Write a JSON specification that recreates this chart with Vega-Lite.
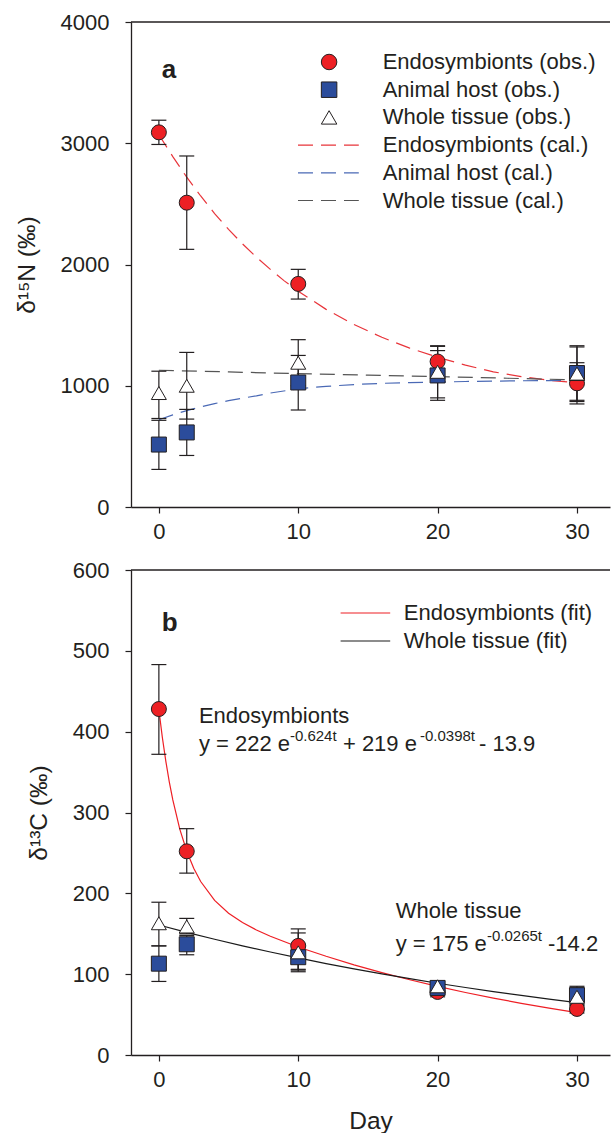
{
  "$schema": "https://vega.github.io/schema/vega-lite/v6.json",
  "padding": {"left": 14, "top": 11, "right": 0, "bottom": 0},
  "background": "white",
  "spacing": 17,
  "config": {
    "font": "Liberation Sans",
    "view": {"stroke": null},
    "axis": {"grid": false, "domainColor": "#231f20", "domainWidth": 1.3, "tickColor": "#231f20", "tickWidth": 1.2, "tickSize": 6, "labelFont": "Liberation Sans", "labelFontSize": 22, "labelColor": "#231f20", "titleFont": "Liberation Sans", "titleFontSize": 24.5, "titleFontWeight": "normal", "titleColor": "#231f20"},
    "axisX": {"labelPadding": 8, "titlePadding": 19},
    "axisY": {"labelPadding": 16, "titlePadding": 21},
    "legend": {"labelFont": "Liberation Sans", "labelFontSize": 22, "labelColor": "#231f20", "labelLimit": 400}
  },
  "resolve": {"scale": {"color": "independent", "fill": "independent", "shape": "independent", "stroke": "independent"}, "legend": {"color": "independent", "fill": "independent", "shape": "independent", "stroke": "independent"}},
  "datasets": {
    "a_obs": [
      {"series": "Endosymbionts (obs.)", "day": 0, "mean": 3090, "lo": 2990, "hi": 3190},
      {"series": "Endosymbionts (obs.)", "day": 2, "mean": 2510, "lo": 2125, "hi": 2895},
      {"series": "Endosymbionts (obs.)", "day": 10, "mean": 1840, "lo": 1715, "hi": 1960},
      {"series": "Endosymbionts (obs.)", "day": 20, "mean": 1200, "lo": 1075, "hi": 1325},
      {"series": "Endosymbionts (obs.)", "day": 30, "mean": 1020, "lo": 850, "hi": 1190},
      {"series": "Animal host (obs.)", "day": 0, "mean": 515, "lo": 310, "hi": 715},
      {"series": "Animal host (obs.)", "day": 2, "mean": 615, "lo": 425, "hi": 805},
      {"series": "Animal host (obs.)", "day": 10, "mean": 1027, "lo": 800, "hi": 1250},
      {"series": "Animal host (obs.)", "day": 20, "mean": 1085, "lo": 880, "hi": 1290},
      {"series": "Animal host (obs.)", "day": 30, "mean": 1105, "lo": 880, "hi": 1320},
      {"series": "Whole tissue (obs.)", "day": 0, "mean": 940, "lo": 730, "hi": 1120},
      {"series": "Whole tissue (obs.)", "day": 2, "mean": 1000, "lo": 725, "hi": 1275},
      {"series": "Whole tissue (obs.)", "day": 10, "mean": 1190, "lo": 1000, "hi": 1380},
      {"series": "Whole tissue (obs.)", "day": 20, "mean": 1115, "lo": 900, "hi": 1330},
      {"series": "Whole tissue (obs.)", "day": 30, "mean": 1100, "lo": 870, "hi": 1330}
    ],
    "a_cal": [
      {"series": "Endosymbionts (cal.)", "day": 0, "value": 3070},
      {"series": "Endosymbionts (cal.)", "day": 1, "value": 2890},
      {"series": "Endosymbionts (cal.)", "day": 2, "value": 2720},
      {"series": "Endosymbionts (cal.)", "day": 3, "value": 2565},
      {"series": "Endosymbionts (cal.)", "day": 4, "value": 2420},
      {"series": "Endosymbionts (cal.)", "day": 5, "value": 2290},
      {"series": "Endosymbionts (cal.)", "day": 6, "value": 2170},
      {"series": "Endosymbionts (cal.)", "day": 7, "value": 2060},
      {"series": "Endosymbionts (cal.)", "day": 8, "value": 1960},
      {"series": "Endosymbionts (cal.)", "day": 9, "value": 1865},
      {"series": "Endosymbionts (cal.)", "day": 10, "value": 1780},
      {"series": "Endosymbionts (cal.)", "day": 12, "value": 1630},
      {"series": "Endosymbionts (cal.)", "day": 14, "value": 1505},
      {"series": "Endosymbionts (cal.)", "day": 16, "value": 1400},
      {"series": "Endosymbionts (cal.)", "day": 18, "value": 1310},
      {"series": "Endosymbionts (cal.)", "day": 20, "value": 1235},
      {"series": "Endosymbionts (cal.)", "day": 22, "value": 1170},
      {"series": "Endosymbionts (cal.)", "day": 24, "value": 1115},
      {"series": "Endosymbionts (cal.)", "day": 26, "value": 1075},
      {"series": "Endosymbionts (cal.)", "day": 28, "value": 1045},
      {"series": "Endosymbionts (cal.)", "day": 30, "value": 1025},
      {"series": "Animal host (cal.)", "day": 0, "value": 720},
      {"series": "Animal host (cal.)", "day": 1, "value": 760},
      {"series": "Animal host (cal.)", "day": 2, "value": 795},
      {"series": "Animal host (cal.)", "day": 3, "value": 825},
      {"series": "Animal host (cal.)", "day": 4, "value": 853},
      {"series": "Animal host (cal.)", "day": 5, "value": 877},
      {"series": "Animal host (cal.)", "day": 6, "value": 898},
      {"series": "Animal host (cal.)", "day": 7, "value": 917},
      {"series": "Animal host (cal.)", "day": 8, "value": 940},
      {"series": "Animal host (cal.)", "day": 10, "value": 975},
      {"series": "Animal host (cal.)", "day": 12, "value": 995},
      {"series": "Animal host (cal.)", "day": 14, "value": 1010},
      {"series": "Animal host (cal.)", "day": 16, "value": 1020},
      {"series": "Animal host (cal.)", "day": 18, "value": 1026},
      {"series": "Animal host (cal.)", "day": 20, "value": 1030},
      {"series": "Animal host (cal.)", "day": 22, "value": 1035},
      {"series": "Animal host (cal.)", "day": 24, "value": 1038},
      {"series": "Animal host (cal.)", "day": 26, "value": 1041},
      {"series": "Animal host (cal.)", "day": 28, "value": 1043},
      {"series": "Animal host (cal.)", "day": 30, "value": 1045},
      {"series": "Whole tissue (cal.)", "day": 0, "value": 1128},
      {"series": "Whole tissue (cal.)", "day": 5, "value": 1114},
      {"series": "Whole tissue (cal.)", "day": 10, "value": 1100},
      {"series": "Whole tissue (cal.)", "day": 15, "value": 1087},
      {"series": "Whole tissue (cal.)", "day": 20, "value": 1075},
      {"series": "Whole tissue (cal.)", "day": 25, "value": 1062},
      {"series": "Whole tissue (cal.)", "day": 30, "value": 1048}
    ],
    "b_obs": [
      {"series": "Endosymbionts (obs.)", "day": 0, "mean": 428, "lo": 372, "hi": 483},
      {"series": "Endosymbionts (obs.)", "day": 2, "mean": 252, "lo": 225, "hi": 280},
      {"series": "Endosymbionts (obs.)", "day": 10, "mean": 135, "lo": 103, "hi": 156},
      {"series": "Endosymbionts (obs.)", "day": 20, "mean": 78, "lo": 72, "hi": 84},
      {"series": "Endosymbionts (obs.)", "day": 30, "mean": 57, "lo": 52, "hi": 62},
      {"series": "Animal host (obs.)", "day": 0, "mean": 113, "lo": 91, "hi": 135},
      {"series": "Animal host (obs.)", "day": 2, "mean": 137, "lo": 124, "hi": 148},
      {"series": "Animal host (obs.)", "day": 10, "mean": 121, "lo": 106, "hi": 136},
      {"series": "Animal host (obs.)", "day": 20, "mean": 83, "lo": 77, "hi": 89},
      {"series": "Animal host (obs.)", "day": 30, "mean": 74, "lo": 63, "hi": 85},
      {"series": "Whole tissue (obs.)", "day": 0, "mean": 163, "lo": 135, "hi": 189},
      {"series": "Whole tissue (obs.)", "day": 2, "mean": 159, "lo": 150, "hi": 169},
      {"series": "Whole tissue (obs.)", "day": 10, "mean": 127, "lo": 105, "hi": 151},
      {"series": "Whole tissue (obs.)", "day": 20, "mean": 85, "lo": 80, "hi": 91},
      {"series": "Whole tissue (obs.)", "day": 30, "mean": 72, "lo": 61, "hi": 83}
    ],
    "b_fit": [
      {"series": "Endosymbionts (fit)", "day": 0, "value": 427.1},
      {"series": "Endosymbionts (fit)", "day": 0.25, "value": 392.8},
      {"series": "Endosymbionts (fit)", "day": 0.5, "value": 363.3},
      {"series": "Endosymbionts (fit)", "day": 0.75, "value": 337.7},
      {"series": "Endosymbionts (fit)", "day": 1, "value": 315.5},
      {"series": "Endosymbionts (fit)", "day": 1.5, "value": 279.5},
      {"series": "Endosymbionts (fit)", "day": 2, "value": 252.0},
      {"series": "Endosymbionts (fit)", "day": 2.5, "value": 231.0},
      {"series": "Endosymbionts (fit)", "day": 3, "value": 214.6},
      {"series": "Endosymbionts (fit)", "day": 4, "value": 191.2},
      {"series": "Endosymbionts (fit)", "day": 5, "value": 175.4},
      {"series": "Endosymbionts (fit)", "day": 6, "value": 163.9},
      {"series": "Endosymbionts (fit)", "day": 7, "value": 154.6},
      {"series": "Endosymbionts (fit)", "day": 8, "value": 146.9},
      {"series": "Endosymbionts (fit)", "day": 10, "value": 133.6},
      {"series": "Endosymbionts (fit)", "day": 12, "value": 122.1},
      {"series": "Endosymbionts (fit)", "day": 14, "value": 111.5},
      {"series": "Endosymbionts (fit)", "day": 16, "value": 102.0},
      {"series": "Endosymbionts (fit)", "day": 18, "value": 93.1},
      {"series": "Endosymbionts (fit)", "day": 20, "value": 84.9},
      {"series": "Endosymbionts (fit)", "day": 22, "value": 77.3},
      {"series": "Endosymbionts (fit)", "day": 24, "value": 70.4},
      {"series": "Endosymbionts (fit)", "day": 26, "value": 63.9},
      {"series": "Endosymbionts (fit)", "day": 28, "value": 58.0},
      {"series": "Endosymbionts (fit)", "day": 30, "value": 52.5},
      {"series": "Whole tissue (fit)", "day": 0, "value": 160.8},
      {"series": "Whole tissue (fit)", "day": 2, "value": 151.8},
      {"series": "Whole tissue (fit)", "day": 4, "value": 143.2},
      {"series": "Whole tissue (fit)", "day": 6, "value": 135.1},
      {"series": "Whole tissue (fit)", "day": 8, "value": 127.4},
      {"series": "Whole tissue (fit)", "day": 10, "value": 120.1},
      {"series": "Whole tissue (fit)", "day": 12, "value": 113.1},
      {"series": "Whole tissue (fit)", "day": 14, "value": 106.6},
      {"series": "Whole tissue (fit)", "day": 16, "value": 100.3},
      {"series": "Whole tissue (fit)", "day": 18, "value": 94.4},
      {"series": "Whole tissue (fit)", "day": 20, "value": 88.8},
      {"series": "Whole tissue (fit)", "day": 22, "value": 83.5},
      {"series": "Whole tissue (fit)", "day": 24, "value": 78.4},
      {"series": "Whole tissue (fit)", "day": 26, "value": 73.7},
      {"series": "Whole tissue (fit)", "day": 28, "value": 69.1},
      {"series": "Whole tissue (fit)", "day": 30, "value": 64.8}
    ]
  },
  "vconcat": [
    {
      "width": 479,
      "height": 485,
      "layer": [
        {
          "data": {"name": "a_cal"},
          "mark": {"type": "line", "strokeDash": [15, 8], "strokeWidth": 1.2},
          "encoding": {
            "x": {"field": "day", "type": "quantitative", "scale": {"domain": [-2, 32.37], "nice": false, "zero": false}, "axis": {"values": [0, 10, 20, 30], "title": null}},
            "y": {"field": "value", "type": "quantitative", "scale": {"domain": [0, 4000], "nice": false}, "axis": {"values": [0, 1000, 2000, 3000, 4000], "format": "d", "title": "δ¹⁵N (‰)"}},
            "color": {"field": "series", "type": "nominal", "scale": {"domain": ["Endosymbionts (cal.)", "Animal host (cal.)", "Whole tissue (cal.)"], "range": ["#e8343a", "#4a69b5", "#555555"]},
              "legend": {"title": null, "orient": "none", "legendX": 186.4, "legendY": 112.1, "padding": 0, "symbolType": "M-3.8,0H3.8", "symbolSize": 256, "symbolStrokeWidth": 1.2, "symbolDash": [15, 8], "labelOffset": 43.4, "rowPadding": 5.7}}
          }
        },
        {
          "data": {"name": "a_obs"},
          "mark": {"type": "rule", "stroke": "#231f20", "strokeWidth": 1.2},
          "encoding": {
            "x": {"field": "day", "type": "quantitative"},
            "y": {"field": "lo", "type": "quantitative"},
            "y2": {"field": "hi"}
          }
        },
        {
          "data": {"name": "a_obs"},
          "mark": {"type": "tick", "orient": "horizontal", "size": 15, "thickness": 1.2, "color": "#231f20", "opacity": 1},
          "encoding": {"x": {"field": "day", "type": "quantitative"}, "y": {"field": "lo", "type": "quantitative"}}
        },
        {
          "data": {"name": "a_obs"},
          "mark": {"type": "tick", "orient": "horizontal", "size": 15, "thickness": 1.2, "color": "#231f20", "opacity": 1},
          "encoding": {"x": {"field": "day", "type": "quantitative"}, "y": {"field": "hi", "type": "quantitative"}}
        },
        {
          "data": {"name": "a_obs"},
          "mark": {"type": "point", "filled": true, "size": 225, "strokeWidth": 1, "opacity": 1},
          "encoding": {
            "x": {"field": "day", "type": "quantitative"},
            "y": {"field": "mean", "type": "quantitative"},
            "shape": {"field": "series", "type": "nominal", "scale": {"domain": ["Endosymbionts (obs.)", "Animal host (obs.)", "Whole tissue (obs.)"], "range": ["circle", "square", "triangle-up"]},
              "legend": {"title": null, "orient": "none", "legendX": 187.1, "legendY": 29, "padding": 0, "symbolSize": 240, "symbolStrokeWidth": 1, "labelOffset": 42.6, "rowPadding": 5.7}},
            "fill": {"field": "series", "type": "nominal", "scale": {"domain": ["Endosymbionts (obs.)", "Animal host (obs.)", "Whole tissue (obs.)"], "range": ["#ed2024", "#2b4c9b", "#ffffff"]},
              "legend": {"title": null, "orient": "none", "legendX": 187.1, "legendY": 29, "padding": 0, "symbolSize": 240, "symbolStrokeWidth": 1, "labelOffset": 42.6, "rowPadding": 5.7}},
            "stroke": {"field": "series", "type": "nominal", "scale": {"domain": ["Endosymbionts (obs.)", "Animal host (obs.)", "Whole tissue (obs.)"], "range": ["#231f20", "#231f20", "#231f20"]},
              "legend": {"title": null, "orient": "none", "legendX": 187.1, "legendY": 29, "padding": 0, "symbolSize": 240, "symbolStrokeWidth": 1, "labelOffset": 42.6, "rowPadding": 5.7}}
          }
        },
        {
          "data": {"values": [{}]},
          "mark": {"type": "rule", "stroke": "#231f20", "strokeWidth": 1.3},
          "encoding": {"y": {"datum": 4000, "type": "quantitative"}}
        },
        {
          "data": {"values": [{}]},
          "mark": {"type": "text", "font": "Liberation Sans", "fontSize": 26, "fontWeight": "bold", "align": "left", "baseline": "alphabetic", "color": "#231f20"},
          "encoding": {"text": {"value": "a"}, "x": {"datum": 0.215, "type": "quantitative"}, "y": {"datum": 3538, "type": "quantitative"}}
        }
      ]
    },
    {
      "width": 479,
      "height": 485,
      "layer": [
        {
          "data": {"name": "b_fit"},
          "mark": {"type": "line", "strokeWidth": 1.2},
          "encoding": {
            "x": {"field": "day", "type": "quantitative", "scale": {"domain": [-2, 32.37], "nice": false, "zero": false}, "axis": {"values": [0, 10, 20, 30], "title": "Day"}},
            "y": {"field": "value", "type": "quantitative", "scale": {"domain": [0, 600], "nice": false}, "axis": {"values": [0, 100, 200, 300, 400, 500, 600], "format": "d", "title": "δ¹³C (‰)"}},
            "color": {"field": "series", "type": "nominal", "scale": {"domain": ["Endosymbionts (fit)", "Whole tissue (fit)"], "range": ["#ee1f25", "#1a1a1a"]},
              "legend": {"title": null, "orient": "none", "legendX": 223.4, "legendY": 32, "padding": 0, "symbolType": "M-3.1,0H3.1", "symbolSize": 256, "symbolStrokeWidth": 1.2, "labelOffset": 27.4, "rowPadding": 6}}
          }
        },
        {
          "data": {"name": "b_obs"},
          "mark": {"type": "rule", "stroke": "#231f20", "strokeWidth": 1.2},
          "encoding": {
            "x": {"field": "day", "type": "quantitative"},
            "y": {"field": "lo", "type": "quantitative"},
            "y2": {"field": "hi"}
          }
        },
        {
          "data": {"name": "b_obs"},
          "mark": {"type": "tick", "orient": "horizontal", "size": 15, "thickness": 1.2, "color": "#231f20", "opacity": 1},
          "encoding": {"x": {"field": "day", "type": "quantitative"}, "y": {"field": "lo", "type": "quantitative"}}
        },
        {
          "data": {"name": "b_obs"},
          "mark": {"type": "tick", "orient": "horizontal", "size": 15, "thickness": 1.2, "color": "#231f20", "opacity": 1},
          "encoding": {"x": {"field": "day", "type": "quantitative"}, "y": {"field": "hi", "type": "quantitative"}}
        },
        {
          "data": {"name": "b_obs"},
          "mark": {"type": "point", "filled": true, "size": 225, "strokeWidth": 1, "opacity": 1, "stroke": "#231f20"},
          "encoding": {
            "x": {"field": "day", "type": "quantitative"},
            "y": {"field": "mean", "type": "quantitative"},
            "shape": {"field": "series", "type": "nominal", "scale": {"domain": ["Endosymbionts (obs.)", "Animal host (obs.)", "Whole tissue (obs.)"], "range": ["circle", "square", "triangle-up"]}, "legend": null},
            "fill": {"field": "series", "type": "nominal", "scale": {"domain": ["Endosymbionts (obs.)", "Animal host (obs.)", "Whole tissue (obs.)"], "range": ["#ed2024", "#2b4c9b", "#ffffff"]}, "legend": null}
          }
        },
        {
          "data": {"values": [{}]},
          "mark": {"type": "rule", "stroke": "#231f20", "strokeWidth": 1.3},
          "encoding": {"y": {"datum": 600, "type": "quantitative"}}
        },
        {
          "data": {"values": [{}]},
          "mark": {"type": "text", "font": "Liberation Sans", "fontSize": 26, "fontWeight": "bold", "align": "left", "baseline": "alphabetic", "color": "#231f20"},
          "encoding": {"text": {"value": "b"}, "x": {"datum": 0.215, "type": "quantitative"}, "y": {"datum": 524.5, "type": "quantitative"}}
        },
        {
          "data": {"values": [{}]},
          "mark": {"type": "text", "font": "Liberation Sans", "fontSize": 22, "align": "left", "baseline": "alphabetic", "color": "#231f20"},
          "encoding": {"text": {"value": "Endosymbionts"}, "x": {"datum": 2.871, "type": "quantitative"}, "y": {"datum": 410.7, "type": "quantitative"}}
        },
        {
          "data": {"values": [{}]},
          "mark": {"type": "text", "font": "Liberation Sans", "fontSize": 22, "align": "left", "baseline": "alphabetic", "color": "#231f20"},
          "encoding": {"text": {"value": "y = 222 e"}, "x": {"datum": 2.871, "type": "quantitative"}, "y": {"datum": 376.5, "type": "quantitative"}}
        },
        {
          "data": {"values": [{}]},
          "mark": {"type": "text", "font": "Liberation Sans", "fontSize": 15, "align": "left", "baseline": "alphabetic", "color": "#231f20"},
          "encoding": {"text": {"value": "-0.624t"}, "x": {"datum": 9.402, "type": "quantitative"}, "y": {"datum": 388.8, "type": "quantitative"}}
        },
        {
          "data": {"values": [{}]},
          "mark": {"type": "text", "font": "Liberation Sans", "fontSize": 22, "align": "left", "baseline": "alphabetic", "color": "#231f20"},
          "encoding": {"text": {"value": "+ 219 e"}, "x": {"datum": 13.206, "type": "quantitative"}, "y": {"datum": 376.5, "type": "quantitative"}}
        },
        {
          "data": {"values": [{}]},
          "mark": {"type": "text", "font": "Liberation Sans", "fontSize": 15, "align": "left", "baseline": "alphabetic", "color": "#231f20"},
          "encoding": {"text": {"value": "-0.0398t"}, "x": {"datum": 18.733, "type": "quantitative"}, "y": {"datum": 388.8, "type": "quantitative"}}
        },
        {
          "data": {"values": [{}]},
          "mark": {"type": "text", "font": "Liberation Sans", "fontSize": 22, "align": "left", "baseline": "alphabetic", "color": "#231f20"},
          "encoding": {"text": {"value": "- 13.9"}, "x": {"datum": 22.967, "type": "quantitative"}, "y": {"datum": 376.5, "type": "quantitative"}}
        },
        {
          "data": {"values": [{}]},
          "mark": {"type": "text", "font": "Liberation Sans", "fontSize": 22, "align": "left", "baseline": "alphabetic", "color": "#231f20"},
          "encoding": {"text": {"value": "Whole tissue"}, "x": {"datum": 16.99, "type": "quantitative"}, "y": {"datum": 168.9, "type": "quantitative"}}
        },
        {
          "data": {"values": [{}]},
          "mark": {"type": "text", "font": "Liberation Sans", "fontSize": 22, "align": "left", "baseline": "alphabetic", "color": "#231f20"},
          "encoding": {"text": {"value": "y = 175 e"}, "x": {"datum": 16.99, "type": "quantitative"}, "y": {"datum": 128.7, "type": "quantitative"}}
        },
        {
          "data": {"values": [{}]},
          "mark": {"type": "text", "font": "Liberation Sans", "fontSize": 15, "align": "left", "baseline": "alphabetic", "color": "#231f20"},
          "encoding": {"text": {"value": "-0.0265t"}, "x": {"datum": 23.54, "type": "quantitative"}, "y": {"datum": 141.0, "type": "quantitative"}}
        },
        {
          "data": {"values": [{}]},
          "mark": {"type": "text", "font": "Liberation Sans", "fontSize": 22, "align": "left", "baseline": "alphabetic", "color": "#231f20"},
          "encoding": {"text": {"value": "-14.2"}, "x": {"datum": 27.92, "type": "quantitative"}, "y": {"datum": 128.7, "type": "quantitative"}}
        }
      ]
    }
  ]
}
